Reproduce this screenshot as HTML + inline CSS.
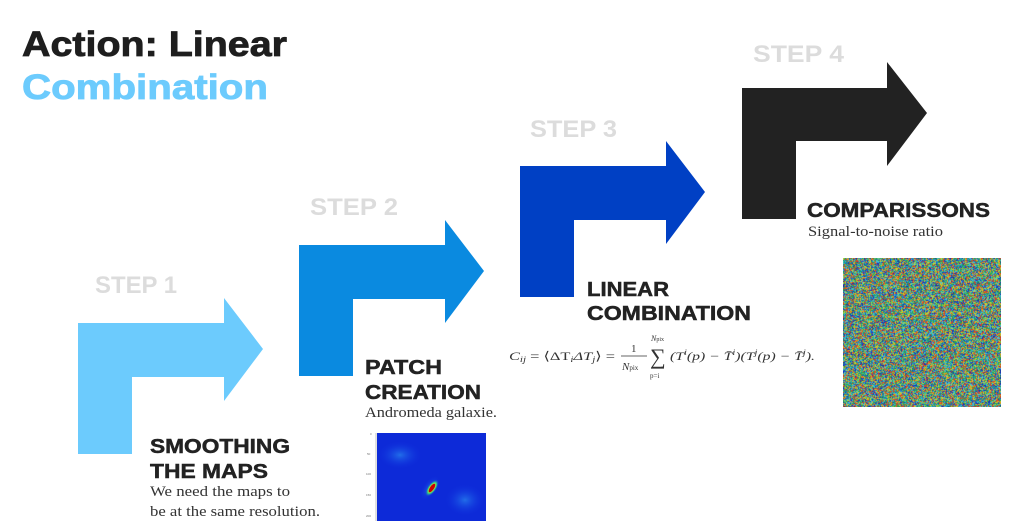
<!DOCTYPE html>
<html><head><meta charset="utf-8"><style>
html,body{margin:0;padding:0;background:#fff;width:1022px;height:521px;overflow:hidden}
svg{position:absolute;left:0;top:0}
#n{position:absolute;left:843px;top:258px;width:158px;height:149px;background:#6aa58a}
</style></head><body>
<svg width="1022" height="521" xmlns="http://www.w3.org/2000/svg" font-family="Liberation Sans, sans-serif">
<defs>
<radialGradient id="g" cx="0.5" cy="0.5" r="0.5">
<stop offset="0" stop-color="#c00"/><stop offset="0.35" stop-color="#ff0"/><stop offset="0.65" stop-color="#3c8"/><stop offset="1" stop-color="#1030e0" stop-opacity="0"/>
</radialGradient>
<radialGradient id="h" cx="0.5" cy="0.5" r="0.5">
<stop offset="0" stop-color="#2a8af0" stop-opacity="0.7"/><stop offset="1" stop-color="#1030e0" stop-opacity="0"/>
</radialGradient>
</defs>
<text x="22" y="56" font-size="35" font-weight="bold" fill="#1e1e1e" stroke="#1e1e1e" stroke-width="0.8" textLength="265" lengthAdjust="spacingAndGlyphs">Action: Linear</text>
<text x="22" y="99" font-size="35" font-weight="bold" fill="#6ccbfd" stroke="#6ccbfd" stroke-width="0.8" textLength="246" lengthAdjust="spacingAndGlyphs">Combination</text>

<g font-size="24" font-weight="bold" fill="#dcdcdc">
<text x="95" y="293" textLength="82" lengthAdjust="spacingAndGlyphs">STEP 1</text>
<text x="310" y="215" textLength="88" lengthAdjust="spacingAndGlyphs">STEP 2</text>
<text x="530" y="137" textLength="87" lengthAdjust="spacingAndGlyphs">STEP 3</text>
<text x="753" y="62" textLength="91" lengthAdjust="spacingAndGlyphs">STEP 4</text>
</g>

<path d="M78,323 H224 V298 L263,349 L224,401 V377 H132 V454 H78 Z" fill="#6ccbfd"/>
<path d="M299,245 H445 V220 L484,271 L445,323 V299 H353 V376 H299 Z" fill="#0a8ae0"/>
<path d="M520,166 H666 V141 L705,192 L666,244 V220 H574 V297 H520 Z" fill="#0040c4"/>
<path d="M742,88 H887 V62 L927,113 L887,166 V141 H796 V219 H742 Z" fill="#222"/>

<g font-size="20" font-weight="bold" fill="#222" stroke="#222" stroke-width="0.5">
<text x="150" y="453" textLength="140" lengthAdjust="spacingAndGlyphs">SMOOTHING</text>
<text x="150" y="478" textLength="118" lengthAdjust="spacingAndGlyphs">THE MAPS</text>
<text x="365" y="374" textLength="77" lengthAdjust="spacingAndGlyphs">PATCH</text>
<text x="365" y="399" textLength="116" lengthAdjust="spacingAndGlyphs">CREATION</text>
<text x="587" y="296" textLength="82" lengthAdjust="spacingAndGlyphs">LINEAR</text>
<text x="587" y="320" textLength="164" lengthAdjust="spacingAndGlyphs">COMBINATION</text>
<text x="807" y="217" textLength="183" lengthAdjust="spacingAndGlyphs">COMPARISSONS</text>
</g>
<g font-family="Liberation Serif, serif" font-size="15" fill="#333">
<text x="150" y="496" textLength="140" lengthAdjust="spacingAndGlyphs">We need the maps to</text>
<text x="150" y="516" textLength="170" lengthAdjust="spacingAndGlyphs">be at the same resolution.</text>
<text x="365" y="417" textLength="132" lengthAdjust="spacingAndGlyphs">Andromeda galaxie.</text>
<text x="808" y="236" textLength="135" lengthAdjust="spacingAndGlyphs">Signal-to-noise ratio</text>
</g>
<g font-family="Liberation Serif, serif" fill="#333" font-style="italic" font-size="12">
<text x="509" y="360" textLength="106" lengthAdjust="spacingAndGlyphs">C<tspan font-size="8" dy="2">ij</tspan><tspan dy="-2" font-style="normal"> = ⟨ΔT</tspan><tspan font-size="8" dy="2">i</tspan><tspan dy="-2">ΔT</tspan><tspan font-size="8" dy="2">j</tspan><tspan dy="-2" font-style="normal">⟩ =</tspan></text>
<text x="631" y="352" font-style="normal" font-size="11">1</text>
<line x1="621" y1="356" x2="647" y2="356" stroke="#333" stroke-width="0.8"/>
<text x="622" y="370" font-size="11">N<tspan font-size="7" font-style="normal">pix</tspan></text>
<text x="650" y="364" font-style="normal" font-size="22">∑</text>
<text x="651" y="341" font-size="8">N<tspan font-size="6" font-style="normal">pix</tspan></text>
<text x="650" y="378" font-size="7" font-style="normal">p=i</text>
<text x="670" y="360" textLength="145" lengthAdjust="spacingAndGlyphs">(T<tspan font-size="8" dy="-5">i</tspan><tspan dy="5">(p) − T̄</tspan><tspan font-size="8" dy="-5">i</tspan><tspan dy="5">)(T</tspan><tspan font-size="8" dy="-5">j</tspan><tspan dy="5">(p) − T̄</tspan><tspan font-size="8" dy="-5">j</tspan><tspan dy="5">).</tspan></text>
</g>

<rect x="377" y="433" width="109" height="88" fill="#0d2ad8"/>
<ellipse cx="400" cy="455" rx="22" ry="14" fill="url(#h)"/>
<ellipse cx="465" cy="500" rx="20" ry="16" fill="url(#h)"/>
<ellipse cx="430" cy="488" rx="14" ry="7" transform="rotate(-55 430 488)" fill="url(#h)"/>
<ellipse cx="432" cy="488" rx="10" ry="4.5" transform="rotate(-55 432 488)" fill="url(#g)"/>
<ellipse cx="432" cy="488" rx="5" ry="2" transform="rotate(-55 432 488)" fill="#c00"/>
<line x1="376" y1="433" x2="376" y2="521" stroke="#999" stroke-width="0.6"/>
<g font-size="3" fill="#777"><text x="370" y="435">0</text><text x="367" y="455">50</text><text x="366" y="475">100</text><text x="366" y="496">150</text><text x="366" y="517">200</text></g>
</svg>
<canvas id="n" width="158" height="149"></canvas>
<script>
var c=document.getElementById('n').getContext('2d');
var cols=['#2ea44f','#1e90c8','#e8a21a','#d23a2a','#3ab8a0','#7ac943','#2050d0','#40c0e0','#c8d83a','#1a9a6a','#1530b0','#e05020'];
for(var y=0;y<149;y++)for(var x=0;x<158;x++){c.fillStyle=cols[(Math.random()*cols.length)|0];c.fillRect(x,y,1,1);}
</script>
</body></html>
